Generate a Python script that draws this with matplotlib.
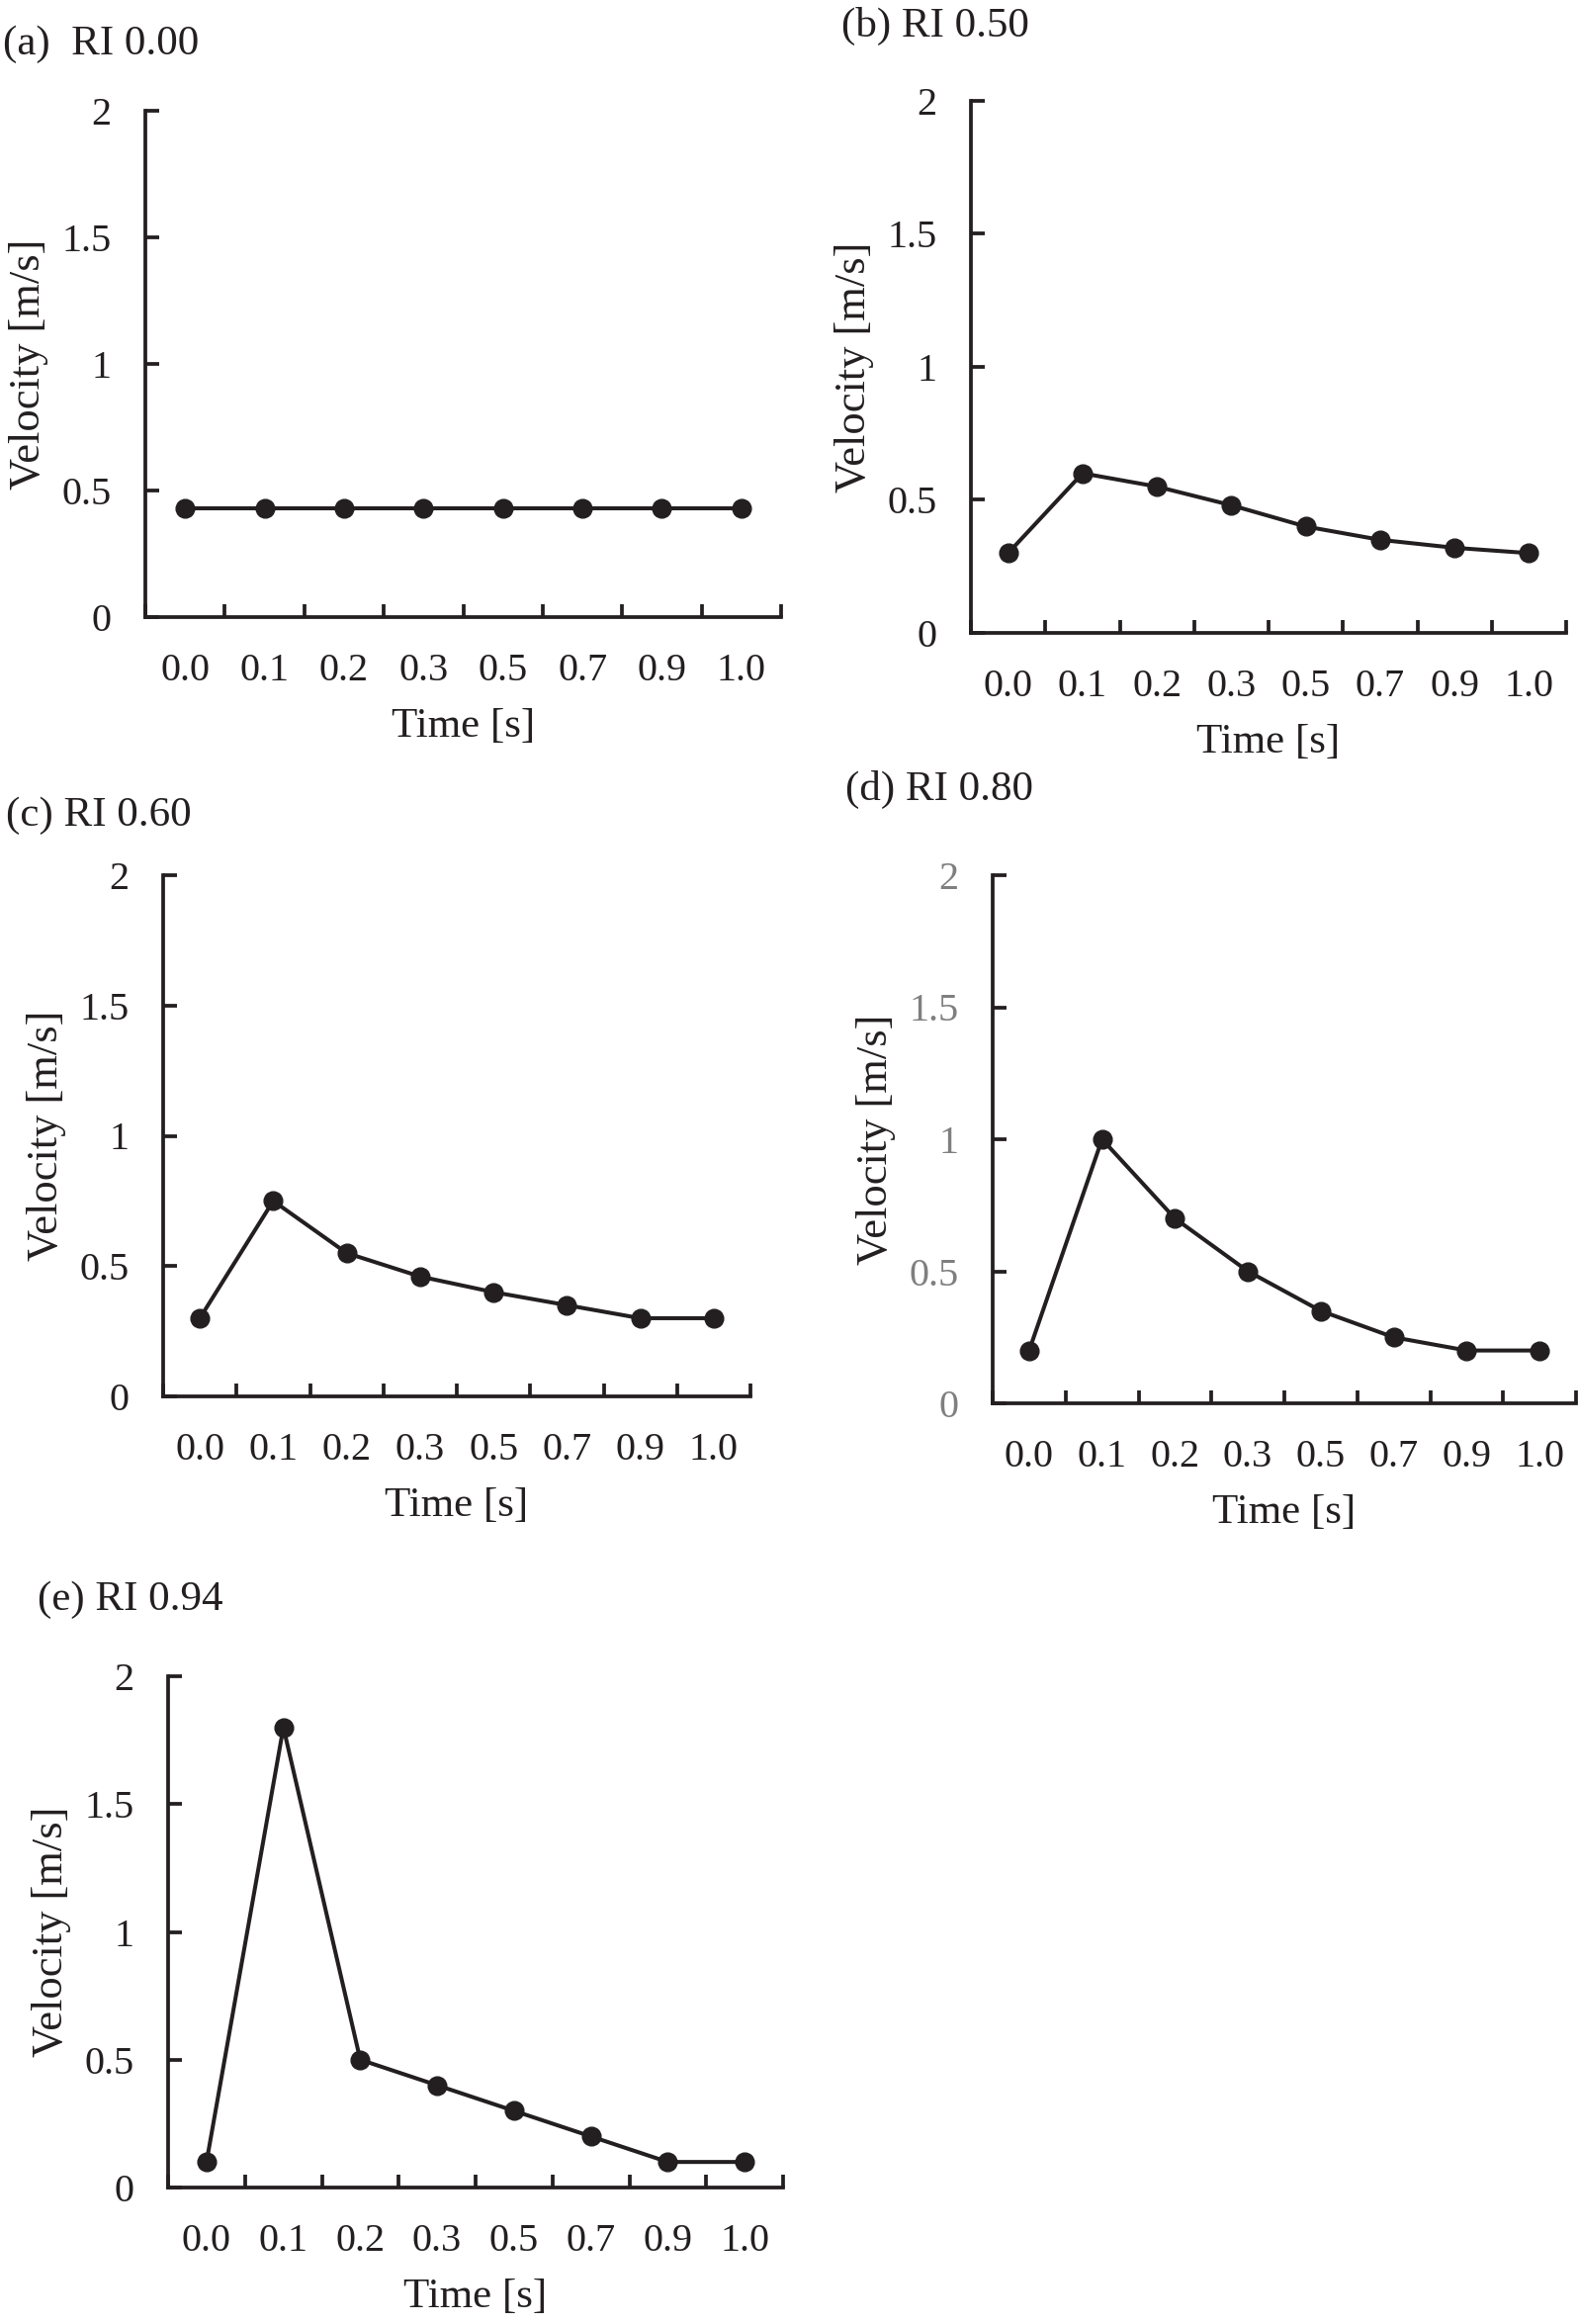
import matplotlib
matplotlib.use("Agg")
import matplotlib.pyplot as plt
import numpy as np

plt.rcParams['font.family'] = ['Liberation Serif', 'DejaVu Serif']

time_labels = ["0.0", "0.1", "0.2", "0.3", "0.5", "0.7", "0.9", "1.0"]
titles = ["(a)  RI 0.00", "(b) RI 0.50", "(c) RI 0.60", "(d) RI 0.80", "(e) RI 0.94"]
vel_a = [0.43, 0.43, 0.43, 0.43, 0.43, 0.43, 0.43, 0.43]
vel_b = [0.30, 0.60, 0.55, 0.48, 0.40, 0.35, 0.32, 0.30]
vel_c = [0.30, 0.75, 0.55, 0.46, 0.40, 0.35, 0.30, 0.30]
vel_d = [0.20, 1.00, 0.70, 0.50, 0.35, 0.25, 0.20, 0.20]
vel_e = [0.10, 1.80, 0.50, 0.40, 0.30, 0.20, 0.10, 0.10]
y_ticks = [0, 0.5, 1, 1.5, 2]
y_ticklabels = ["0", "0.5", "1", "1.5", "2"]

W, H = 1596, 2350
DPI = 100
fig = plt.figure(figsize=(W / DPI, H / DPI), dpi=DPI)

INK = "#231f20"
FS_TICK = 29
FS_LABEL = 31
FS_TITLE = 31

# panel layout in pixels: (left, right, top, bottom), title (x, y)
panels = [
    (vel_a, (147, 790, 112, 624), (3, 45), INK),
    (vel_b, (982, 1584, 102, 640), (851, 26), INK),
    (vel_c, (165, 759, 885, 1412), (6, 825), INK),
    (vel_d, (1004, 1594, 885, 1419), (855, 798), "#7f7f7f"),
    (vel_e, (170, 792, 1695, 2212), (38, 1618), INK),
]

for (vals, (L, R, T, B), (tx, ty), ycol), title in zip(panels, titles):
    ax = fig.add_axes([L / W, 1 - B / H, (R - L) / W, (B - T) / H])
    n = len(time_labels)
    x = np.arange(n)
    ax.plot(x, vals, color=INK, lw=2.9, marker='o', ms=13.5,
            markerfacecolor=INK, markeredgecolor=INK, clip_on=False, zorder=3)
    ax.set_xlim(-0.5, n - 0.5)
    ax.set_ylim(0, 2)
    for s in ['top', 'right']:
        ax.spines[s].set_visible(False)
    for s in ['left', 'bottom']:
        ax.spines[s].set_linewidth(2.7)
        ax.spines[s].set_color(INK)
    ax.set_yticks(y_ticks)
    ax.set_yticklabels(y_ticklabels)
    ax.set_xticks(np.arange(n + 1) - 0.5)
    ax.set_xticklabels([])
    ax.set_xticks(x, minor=True)
    ax.set_xticklabels(time_labels, minor=True)
    ax.tick_params(axis='x', which='major', direction='in', length=9.5,
                   width=2.7, color=INK)
    ax.tick_params(axis='x', which='minor', length=0, pad=26,
                   labelsize=FS_TICK, labelcolor=INK)
    ax.tick_params(axis='y', which='major', direction='in', length=10,
                   width=2.7, color=INK, pad=25, labelsize=FS_TICK, labelcolor=ycol)
    w_px, h_px = R - L, B - T
    ax.set_xlabel("Time [s]", fontsize=FS_LABEL, color=INK)
    ax.xaxis.set_label_coords(0.5, -111 / h_px)
    ax.xaxis.label.set_va('center')
    ax.set_ylabel("Velocity [m/s]", fontsize=FS_LABEL + 1, color=INK)
    ax.yaxis.set_label_coords(-118 / w_px, 0.5)
    ax.yaxis.label.set_va('center')
    fig.text(tx / W, 1 - ty / H, title, fontsize=FS_TITLE, color=INK,
             ha='left', va='center')

fig.savefig("out.png", dpi=DPI, facecolor='white')
